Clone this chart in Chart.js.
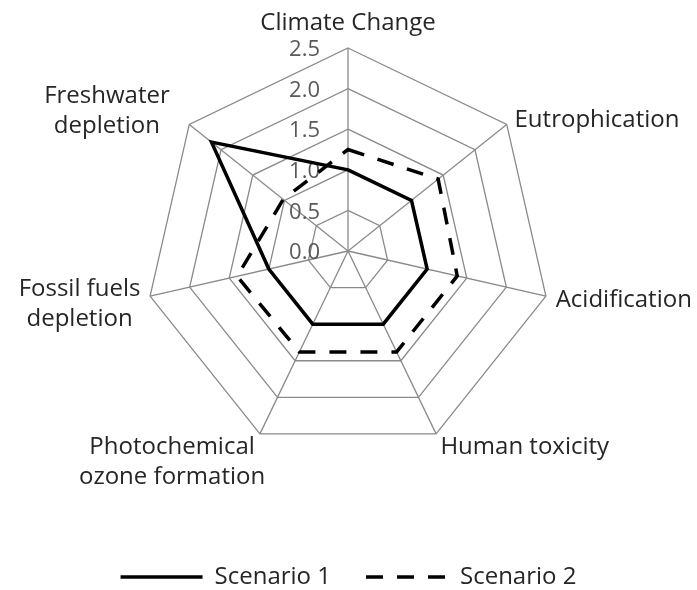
<!DOCTYPE html>
<html>
<head>
<meta charset="utf-8">
<script src="https://cdn.jsdelivr.net/npm/chart.js@4.4.1/dist/chart.umd.min.js"></script>
<style>
  html, body { margin: 0; padding: 0; background: #fff; }
</style>
</head>
<body>
<canvas id="chart" width="697" height="590"></canvas>
<script>
const categories = [
    'Climate Change',
    'Eutrophication',
    'Acidification',
    'Human toxicity',
    ['Photochemical', 'ozone formation'],
    ['Fossil fuels', 'depletion'],
    ['Freshwater', 'depletion']
];
const scenario1 = [1.0, 1.0, 1.0, 1.0, 1.0, 1.0, 2.15];
const scenario2 = [1.25, 1.42, 1.38, 1.38, 1.38, 1.4, 1.02];
const tickLabels = ['0.0', '0.5', '1.0', '1.5', '2.0', '2.5'];

const FONT = '"Open Sans", "Noto Sans", sans-serif';
const GRID = '#8a8a8a';

// tick numbers and category labels drawn by hand, positioned from the r scale
const radarText = {
    id: 'radarText',
    beforeDatasetsDraw(chart) {
        const r = chart.scales.r, ctx = chart.ctx;
        ctx.save();
        ctx.font = '22px ' + FONT;
        ctx.fillStyle = '#595959';
        ctx.textAlign = 'right';
        ctx.textBaseline = 'middle';
        r.ticks.forEach((t, i) => {
            const d = r.getDistanceFromCenterForValue(t.value);
            ctx.fillText(tickLabels[i], r.xCenter - 28, r.yCenter - d + 2);
        });

        ctx.font = '24px ' + FONT;
        ctx.fillStyle = '#262626';
        ctx.textAlign = 'center';
        const lh = 30;
        categories.forEach((label, i) => {
            const lines = [].concat(label);
            const a = r.getIndexAngle(i);
            const s = Math.sin(a), c = Math.cos(a);
            const p = r.getPointPosition(i, r.drawingArea + 10);
            const h = lines.length * lh;
            const w = Math.max(...lines.map(t => ctx.measureText(t).width));
            let cx, cy;
            if (Math.abs(s) < 0.01) {
                cx = p.x;
                cy = c > 0 ? p.y - h / 2 - 2 : p.y + h / 2 + 2;
            } else {
                cx = s > 0 ? p.x + w / 2 : p.x - 3 - 14 * c - w / 2;
                cy = c < -0.5 ? p.y - 13 + h / 2 : p.y - c * (h - lh) / 2;
            }
            cy += 2;
            lines.forEach((t, k) => {
                ctx.fillText(t, cx, cy - h / 2 + lh / 2 + k * lh);
            });
        });
        ctx.restore();
    }
};

new Chart(document.getElementById('chart'), {
    type: 'radar',
    data: {
        labels: categories,
        datasets: [
            {
                label: 'Scenario 1',
                data: scenario1,
                borderColor: '#000',
                backgroundColor: 'transparent',
                borderWidth: 3.5,
                pointRadius: 0,
                fill: false
            },
            {
                label: 'Scenario 2',
                data: scenario2,
                borderColor: '#000',
                backgroundColor: 'transparent',
                borderWidth: 3.5,
                borderDash: [17, 14],
                pointRadius: 0,
                fill: false
            }
        ]
    },
    options: {
        responsive: false,
        animation: false,
        layout: { padding: { top: 48, left: 0, right: 0, bottom: -9 } },
        elements: { line: { tension: 0 } },
        scales: {
            r: {
                min: 0,
                max: 2.5,
                ticks: { stepSize: 0.5, display: false },
                pointLabels: { display: false },
                grid: { color: GRID, lineWidth: 1.3 },
                angleLines: { color: GRID, lineWidth: 1.3 }
            }
        },
        plugins: {
            legend: {
                position: 'bottom',
                title: { display: true, text: '', font: { size: 12 }, padding: { top: 60, bottom: 0 } },
                labels: {
                    usePointStyle: true,
                    pointStyle: 'line',
                    pointStyleWidth: 82,
                    padding: 35,
                    color: '#262626',
                    font: { family: FONT, size: 24 },
                    generateLabels(chart) {
                        const items = Chart.defaults.plugins.legend.labels.generateLabels(chart);
                        items.forEach(it => {
                            const ds = chart.data.datasets[it.datasetIndex];
                            it.lineDash = ds.borderDash || [];
                            it.lineWidth = ds.borderWidth;
                            it.strokeStyle = ds.borderColor;
                        });
                        return items;
                    }
                }
            },
            tooltip: { enabled: false }
        }
    },
    plugins: [radarText]
});
</script>
</body>
</html>
